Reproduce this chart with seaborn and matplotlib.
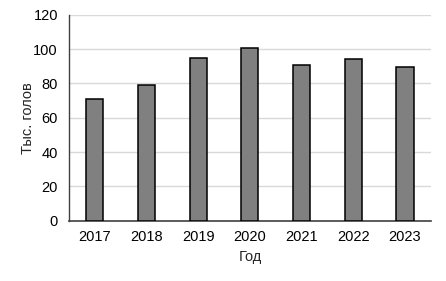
import matplotlib
matplotlib.use("Agg")
import matplotlib.pyplot as plt
import seaborn as sns
import pandas as pd

years = ["2017", "2018", "2019", "2020", "2021", "2022", "2023"]
values = [71, 79, 95, 100.5, 91, 94.5, 89.5]
y_ticks = [0, 20, 40, 60, 80, 100, 120]

sns.set_style("white")
plt.rcParams['font.family'] = ['Liberation Sans', 'DejaVu Sans']

df = pd.DataFrame({"Год": years, "val": values})

fig = plt.figure(figsize=(4.46, 2.81), dpi=100)
ax = fig.add_axes([0.1547, 0.215, 0.8113, 0.732])
sns.barplot(data=df, x="Год", y="val", color="#808080", saturation=1,
            width=0.33, edgecolor="black", linewidth=1.1, ax=ax, zorder=3)

ax.set_ylim(0, 120)
ax.set_yticks(y_ticks)
ax.set_xlim(-0.5, len(years) - 0.5)
ax.yaxis.grid(True, color="#d9d9d9", linewidth=1.0, zorder=0)
ax.set_axisbelow(True)
for s in ["top", "right"]:
    ax.spines[s].set_visible(False)
ax.spines["left"].set_color("#404040")
ax.spines["left"].set_linewidth(1.0)
ax.spines["bottom"].set_color("#404040")
ax.spines["bottom"].set_linewidth(1.2)
ax.tick_params(axis="both", length=0, labelsize=10.5, colors="black", pad=8)
ax.tick_params(axis="x", pad=7)
ax.set_xlabel("Год", fontsize=10.5, labelpad=4)
ax.set_ylabel("Тыс. голов", fontsize=10.5, labelpad=-1)

fig.savefig("out.png", dpi=100)
